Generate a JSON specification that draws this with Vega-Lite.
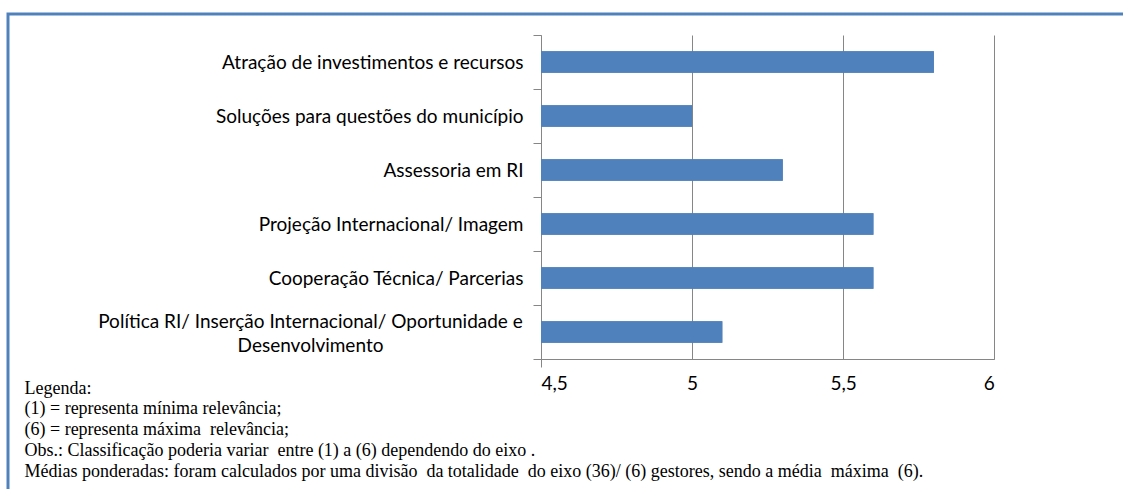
{
  "$schema": "https://vega.github.io/schema/vega-lite/v6.json",
  "autosize": "none",
  "padding": {"left": 8, "top": 14, "right": 0, "bottom": 0},
  "width": 1125,
  "height": 485,
  "background": "white",
  "config": {
    "view": {"stroke": "#4f81bd", "strokeWidth": 3, "fill": "white"}
  },
  "data": {
    "values": [
      {"cat": "Atração de investimentos e recursos", "v": 5.8},
      {"cat": "Soluções para questões do município", "v": 5.0},
      {"cat": "Assessoria em RI", "v": 5.3},
      {"cat": "Projeção Internacional/ Imagem", "v": 5.6},
      {"cat": "Cooperação Técnica/ Parcerias", "v": 5.6},
      {"cat": "Política RI/ Inserção Internacional/ Oportunidade e Desenvolvimento", "v": 5.1}
    ]
  },
  "encoding": {
    "y": {
      "field": "cat",
      "type": "nominal",
      "sort": null,
      "scale": {"range": [21, 345], "paddingInner": 0, "paddingOuter": 0},
      "axis": {
        "title": null,
        "orient": "left",
        "offset": -533,
        "tickBand": "extent",
        "tickSize": 8,
        "tickColor": "#868686",
        "domainColor": "#868686",
        "grid": false,
        "labelFont": "Lato",
        "labelFontSize": 19,
        "labelColor": "#000000",
        "labelLineHeight": 24,
        "labelLimit": 0,
        "labelPadding": {"condition": {"test": "datum.value == 'Política RI/ Inserção Internacional/ Oportunidade e Desenvolvimento'", "value": 223}, "value": 10},
        "labelAlign": {"condition": {"test": "datum.value == 'Política RI/ Inserção Internacional/ Oportunidade e Desenvolvimento'", "value": "center"}, "value": "right"},
        "labelOffset": {"condition": {"test": "datum.value == 'Política RI/ Inserção Internacional/ Oportunidade e Desenvolvimento'", "value": -11}, "value": 0},
        "labelExpr": "datum.value == 'Política RI/ Inserção Internacional/ Oportunidade e Desenvolvimento' ? ['Política RI/ Inserção Internacional/ Oportunidade e', 'Desenvolvimento'] : datum.value"
      }
    },
    "x2": {"datum": 4.5}
  },
  "layer": [
    {
      "mark": {"type": "bar", "color": "#4f81bd", "height": {"band": 0.4}},
      "encoding": {
        "x": {
          "field": "v",
          "type": "quantitative",
          "scale": {"domain": [4.5, 6], "range": [533, 986.3], "nice": false, "zero": false},
          "axis": {
            "orient": "top",
            "values": [4.5, 5, 5.5, 6],
            "grid": true,
            "gridColor": "#868686",
            "gridWidth": 1,
            "ticks": false,
            "labels": false,
            "domain": false,
            "title": null
          }
        }
      }
    },
    {
      "mark": {"type": "bar", "color": "#4f81bd", "height": {"band": 0.4}},
      "encoding": {
        "x": {
          "field": "v",
          "type": "quantitative",
          "scale": {"domain": [4.5, 6], "range": [533, 986.3], "nice": false, "zero": false},
          "axis": {
            "orient": "bottom",
            "offset": -140,
            "values": [4.5, 5, 5.5, 6],
            "ticks": true,
            "tickColor": "#868686",
            "tickSize": {"condition": {"test": "datum.value == 4.5", "value": 8}, "value": 0},
            "grid": false,
            "domainColor": "#868686",
            "labelFont": "Lato",
            "labelFontSize": 19,
            "labelColor": "#000000",
            "labelPadding": {"condition": {"test": "datum.value == 4.5", "value": 7}, "value": 15},
            "labelExpr": "replace(toString(datum.value), '.', ',')",
            "title": [
              "Legenda:",
              "(1) = representa mínima relevância;",
              "(6) = representa máxima\u00a0 relevância;",
              "Obs.: Classificação poderia variar\u00a0 entre (1) a (6) dependendo do eixo .",
              "Médias ponderadas: foram calculados por uma divisão\u00a0 da totalidade\u00a0 do eixo (36)/ (6) gestores, sendo a média\u00a0 máxima\u00a0 (6)."
            ],
            "titleFont": "Liberation Serif",
            "titleFontSize": 18,
            "titleFontWeight": "normal",
            "titleColor": "#000000",
            "titleAlign": "left",
            "titleBaseline": "alphabetic",
            "titleAnchor": "start",
            "titleX": 16,
            "titleY": 34,
            "titleLineHeight": 20.8
          }
        }
      }
    }
  ],
  "resolve": {"axis": {"x": "independent"}}
}
